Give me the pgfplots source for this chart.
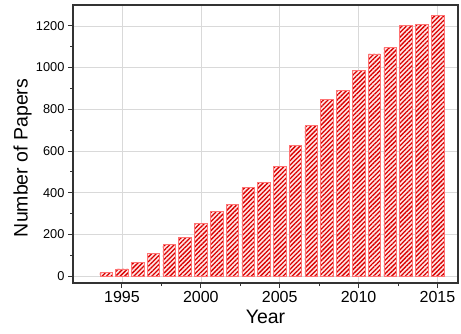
\documentclass[border=0pt]{standalone}
\usepackage{pgfplots}
\pgfplotsset{compat=1.18}
\usetikzlibrary{patterns.meta}
\usepackage{fontspec}
\setmainfont{Liberation Sans}
\begin{document}
\begin{tikzpicture}
\begin{axis}[
  scale only axis,
  width=385pt, height=278pt,
  xmin=1991.9, xmax=2016.3,
  ymin=-33, ymax=1300,
  xtick={1995,2000,...,2015},
  ytick={0,200,...,1200},
  minor x tick num=1,
  minor y tick num=1,
  tick align=outside,
  tick pos=left,
  major tick length=5pt,
  minor tick length=3pt,
  grid=major,
  major grid style={black!15, line width=0.6pt},
  axis line style={black!80, line width=1.1pt},
  every tick/.style={black!80, line width=0.9pt},
  /pgf/number format/1000 sep={},
  /pgf/number format/assume math mode=true,
  xticklabel style={font=\fontsize{16}{18}\selectfont},
  yticklabel style={font=\fontsize{12.8}{15}\selectfont},
  label style={font=\fontsize{19.5}{22}\selectfont},
  xlabel={Year},
  ylabel={Number of Papers},
  xlabel style={at={(axis description cs:0.5,-0.097)}, anchor=north, inner sep=0pt},
  ylabel style={at={(axis description cs:-0.1065,0.45)}, anchor=south, inner sep=0pt},
]
\addplot[ybar, bar width=0.8, draw=red!55, line width=0.6pt, fill=red!10,
  postaction={pattern={Lines[angle=45, distance=3.2pt, line width=1.3pt]}, pattern color=red!85!black}]
coordinates {
(1994,19) (1995,35) (1996,64) (1997,109) (1998,152) (1999,184)
(2000,252) (2001,310) (2002,343) (2003,425) (2004,448) (2005,527)
(2006,626) (2007,723) (2008,849) (2009,889) (2010,985) (2011,1066)
(2012,1097) (2013,1204) (2014,1207) (2015,1251)
};
\coordinate (bl) at (rel axis cs:0,0);
\coordinate (tr) at (rel axis cs:1,1);
\end{axis}
\path ([shift={(-73pt,-50pt)}]bl) rectangle ([shift={(3pt,5pt)}]tr);
\end{tikzpicture}
\end{document}
